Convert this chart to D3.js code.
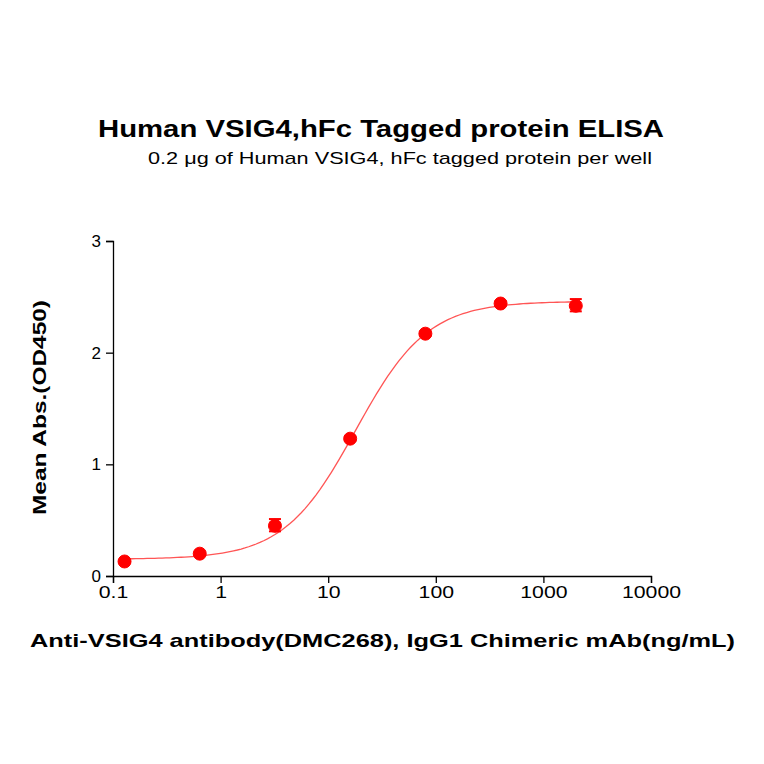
<!DOCTYPE html><html><head><meta charset="utf-8"><script src="https://cdn.jsdelivr.net/npm/d3@7"></script>
<style>body{margin:0;background:#fff}text{font-family:Arial,"Liberation Sans",sans-serif}</style></head><body>
<svg id="c" width="764" height="764"></svg>
<script>
const conc=[0.128,0.64,3.2,16,80,400,2000];
const mean=[0.13,0.20,0.45,1.23,2.17,2.44,2.42];
const errLo=[0.12,0.19,0.40,1.21,2.15,2.42,2.37];
const errHi=[0.14,0.21,0.51,1.25,2.19,2.46,2.48];
const fit={bottom:0.15,top:2.46,ec50:18,hill:1.3};
const xTicks=[0.1,1,10,100,1000,10000];
const xTickLabels=["0.1","1","10","100","1000","10000"];
const yTicks=[0,1,2,3];
const svg=d3.select("#c");
const x=d3.scaleLog().domain([0.1,10000]).range([113,651]);
const y=d3.scaleLinear().domain([0,3]).range([576,241]);
svg.append("g").attr("transform","translate(0,576)")
 .call(d3.axisBottom(x).tickValues(xTicks).tickFormat((d,i)=>xTickLabels[i]).tickSizeOuter(0).tickSize(7))
 .call(g=>g.selectAll("text").attr("font-size",17).attr("transform","scale(1.25,1)").attr("x",0).each(function(){const t=d3.select(this.parentNode).attr("transform");}));
svg.selectAll("g").filter(function(){return this.classList&&this.classList.contains("tick");});
svg.append("g").attr("transform","translate(113,0)")
 .call(d3.axisLeft(y).tickValues(yTicks).tickFormat(d3.format("d")).tickSizeOuter(0).tickSize(7))
 .call(g=>g.selectAll("text").attr("font-size",17).attr("dx","-2"));
svg.selectAll(".domain,.tick line").attr("stroke","#000").attr("stroke-width",1.3);
const f=c=>fit.bottom+(fit.top-fit.bottom)/(1+Math.pow(fit.ec50/c,fit.hill));
const xs=d3.range(0,121).map(i=>Math.pow(10,Math.log10(0.128)+i*(Math.log10(2000)-Math.log10(0.128))/120));
svg.append("path").attr("d",d3.line().x(d=>x(d)).y(d=>y(f(d)))(xs)).attr("fill","none").attr("stroke","#f55").attr("stroke-width",1.3);
const g=svg.append("g").attr("fill","#f00").attr("stroke","#f00");
conc.forEach((c,i)=>{
 g.append("line").attr("x1",x(c)).attr("x2",x(c)).attr("y1",y(errLo[i])).attr("y2",y(errHi[i])).attr("stroke-width",2);
 [errLo[i],errHi[i]].forEach(v=>g.append("line").attr("x1",x(c)-6).attr("x2",x(c)+6).attr("y1",y(v)).attr("y2",y(v)).attr("stroke-width",2));
 g.append("circle").attr("cx",x(c)).attr("cy",y(mean[i])).attr("r",6.5);
});
svg.append("text").attr("x",98).attr("y",137).attr("font-size",24).attr("font-weight","bold").attr("textLength",566).attr("lengthAdjust","spacingAndGlyphs").text("Human VSIG4,hFc Tagged protein ELISA");
svg.append("text").attr("x",148).attr("y",164).attr("font-size",17).attr("textLength",504).attr("lengthAdjust","spacingAndGlyphs").text("0.2 μg of Human VSIG4, hFc tagged protein per well");
svg.append("text").attr("transform","translate(46,515) rotate(-90)").attr("font-size",19).attr("font-weight","bold").attr("textLength",215).attr("lengthAdjust","spacingAndGlyphs").text("Mean Abs.(OD450)");
svg.append("text").attr("x",30).attr("y",647).attr("font-size",19).attr("font-weight","bold").attr("textLength",705).attr("lengthAdjust","spacingAndGlyphs").text("Anti-VSIG4 antibody(DMC268), IgG1 Chimeric mAb(ng/mL)");
</script></body></html>
